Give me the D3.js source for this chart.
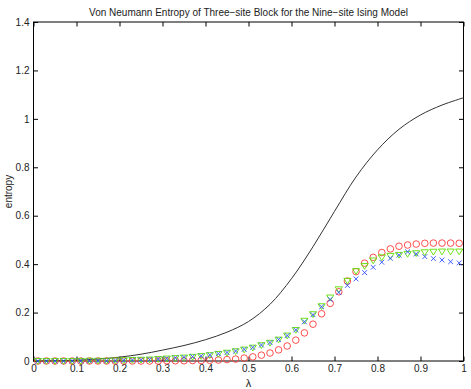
<!DOCTYPE html>
<html>
<head>
<meta charset="utf-8">
<script src="https://cdn.jsdelivr.net/npm/d3@7"></script>
<style>
  body { margin: 0; background: #fff; }
  svg { display: block; font-family: "Liberation Sans", Arial, sans-serif; }
  .axis text { font-size: 10px; fill: #222; }
  .axis path { display: none; }
  .axis line { stroke: #000; }
</style>
</head>
<body>
<svg id="chart" width="471" height="389"></svg>
<script>
'use strict'

// ------------------------------------------------------------ DATA -------

const title = 'Von Neumann Entropy of Three\u2212site Block for the Nine\u2212site Ising Model'
const xLabel = '\u03bb'
const yLabel = 'entropy'

const xTicks = [0, 0.1, 0.2, 0.3, 0.4, 0.5, 0.6, 0.7, 0.8, 0.9, 1]
const yTicks = [0, 0.2, 0.4, 0.6, 0.8, 1, 1.2, 1.4]

// solid black curve
const curveLambda = [0, 0.05, 0.1, 0.15, 0.2, 0.25, 0.3, 0.35, 0.4, 0.45, 0.5,
  0.55, 0.6, 0.65, 0.7, 0.75, 0.8, 0.85, 0.9, 0.95, 1]
const curveEntropy = [0, 0.001, 0.003, 0.008, 0.016, 0.028, 0.045, 0.064, 0.088, 0.119, 0.163,
  0.234, 0.34, 0.472, 0.618, 0.76, 0.872, 0.957, 1.016, 1.057, 1.087]

// marker series, sampled at lambda = 0.01, 0.03, ..., 0.99
const markLambda = [0.01, 0.03, 0.05, 0.07, 0.09, 0.11, 0.13, 0.15, 0.17, 0.19,
  0.21, 0.23, 0.25, 0.27, 0.29, 0.31, 0.33, 0.35, 0.37, 0.39,
  0.41, 0.43, 0.45, 0.47, 0.49, 0.51, 0.53, 0.55, 0.57, 0.59,
  0.61, 0.63, 0.65, 0.67, 0.69, 0.71, 0.73, 0.75, 0.77, 0.79,
  0.81, 0.83, 0.85, 0.87, 0.89, 0.91, 0.93, 0.95, 0.97, 0.99]

const circleVals = [0, 0, 0, 0, 0, 0, 0, 0, 0, 0,
  0, 0, 0, 0, 0, 0.001, 0.001, 0.001, 0.002, 0.002,
  0.003, 0.004, 0.006, 0.008, 0.012, 0.017, 0.024, 0.033, 0.046, 0.062,
  0.086, 0.116, 0.152, 0.195, 0.238, 0.286, 0.33, 0.369, 0.404, 0.428,
  0.448, 0.463, 0.474, 0.479, 0.483, 0.486, 0.487, 0.487, 0.487, 0.486]

const triangleVals = [0, 0, 0, 0, 0, 0, 0.001, 0.001, 0.001, 0.002,
  0.003, 0.004, 0.005, 0.006, 0.008, 0.01, 0.012, 0.014, 0.017, 0.02,
  0.024, 0.029, 0.034, 0.04, 0.047, 0.055, 0.065, 0.075, 0.088, 0.105,
  0.128, 0.166, 0.193, 0.226, 0.262, 0.296, 0.331, 0.371, 0.392, 0.415,
  0.428, 0.434, 0.438, 0.442, 0.445, 0.449, 0.451, 0.452, 0.452, 0.452]

const crossVals = [0, 0, 0, 0, 0, 0, 0.001, 0.001, 0.001, 0.002,
  0.003, 0.004, 0.005, 0.006, 0.008, 0.01, 0.013, 0.015, 0.018, 0.021,
  0.025, 0.03, 0.035, 0.041, 0.048, 0.056, 0.066, 0.076, 0.089, 0.105,
  0.128, 0.162, 0.191, 0.224, 0.254, 0.283, 0.312, 0.339, 0.365, 0.387,
  0.408, 0.424, 0.437, 0.451, 0.442, 0.431, 0.423, 0.417, 0.41, 0.405]

// ------------------------------------------------------ POSITIONING -------

const svg = d3.select('#chart')
const mLeft = 33.5, mRight = 463.5, mTop = 22, mBottom = 361
const innerWidth = mRight - mLeft
const innerHeight = mBottom - mTop

const x = d3.scaleLinear().domain([0, 1]).range([mLeft, mRight])
const y = d3.scaleLinear().domain([0, 1.4]).range([mBottom, mTop])

const fmt = d => String(+d.toFixed(1))

// ------------------------------------------------------------ AXES -------

svg.append('g').attr('class', 'axis')
  .attr('transform', 'translate(0,' + mBottom + ')')
  .call(d3.axisBottom(x).tickValues(xTicks).tickFormat(fmt).tickSizeInner(-4.5).tickSizeOuter(0).tickPadding(4))

svg.append('g').attr('class', 'axis')
  .attr('transform', 'translate(' + mLeft + ',0)')
  .call(d3.axisLeft(y).tickValues(yTicks).tickFormat(fmt).tickSizeInner(-4.5).tickSizeOuter(0).tickPadding(4))

// top and right: ticks only
svg.append('g').attr('class', 'axis mirror')
  .attr('transform', 'translate(0,' + mTop + ')')
  .call(d3.axisTop(x).tickValues(xTicks).tickSizeInner(-4.5).tickSizeOuter(0))

svg.append('g').attr('class', 'axis mirror')
  .attr('transform', 'translate(' + mRight + ',0)')
  .call(d3.axisRight(y).tickValues(yTicks).tickSizeInner(-4.5).tickSizeOuter(0))

svg.selectAll('.mirror text').remove()

svg.append('rect')
  .attr('x', mLeft).attr('y', mTop)
  .attr('width', innerWidth).attr('height', innerHeight)
  .attr('fill', 'none').attr('stroke', '#000').attr('stroke-width', 1)

// ----------------------------------------------------------- LABELS -------

svg.append('text')
  .attr('x', (mLeft + mRight) / 2).attr('y', 16)
  .attr('text-anchor', 'middle')
  .style('font-size', '10px').style('fill', '#222')
  .text(title)

svg.append('text')
  .attr('x', (mLeft + mRight) / 2).attr('y', 387)
  .attr('text-anchor', 'middle')
  .style('font-size', '11px').style('fill', '#222')
  .text(xLabel)

svg.append('text')
  .attr('transform', 'translate(12,' + ((mTop + mBottom) / 2) + ') rotate(-90)')
  .attr('text-anchor', 'middle')
  .style('font-size', '10px').style('fill', '#222')
  .text(yLabel)

// ------------------------------------------------------------ MARKS -------

const plotG = svg.append('g')

const line = d3.line()
  .x((d, i) => x(curveLambda[i]))
  .y(d => y(d))
  .curve(d3.curveCatmullRom.alpha(0.5))

plotG.append('path')
  .attr('d', line(curveEntropy))
  .attr('fill', 'none')
  .attr('stroke', '#333')
  .attr('stroke-width', 1)

plotG.selectAll('circle.c').data(circleVals).enter()
  .append('circle')
    .attr('cx', (d, i) => x(markLambda[i]))
    .attr('cy', d => y(d))
    .attr('r', 3.3)
    .attr('fill', 'none')
    .attr('stroke', '#ff3a3a')
    .attr('stroke-width', 0.9)

const tri = 3.6
plotG.selectAll('path.t').data(triangleVals).enter()
  .append('path')
    .attr('d', (d, i) => {
      const cx = x(markLambda[i]), cy = y(d)
      return 'M' + (cx - tri) + ',' + (cy - tri * 0.7) + 'L' + (cx + tri) + ',' + (cy - tri * 0.7) +
        'L' + cx + ',' + (cy + tri * 0.9) + 'Z'
    })
    .attr('fill', 'none')
    .attr('stroke', '#5ee000')
    .attr('stroke-width', 0.9)

const cr = 2.4
plotG.selectAll('path.x').data(crossVals).enter()
  .append('path')
    .attr('d', (d, i) => {
      const cx = x(markLambda[i]), cy = y(d)
      return 'M' + (cx - cr) + ',' + (cy - cr) + 'L' + (cx + cr) + ',' + (cy + cr) +
        'M' + (cx - cr) + ',' + (cy + cr) + 'L' + (cx + cr) + ',' + (cy - cr)
    })
    .attr('fill', 'none')
    .attr('stroke', '#3050ff')
    .attr('stroke-width', 0.9)
</script>
</body>
</html>
